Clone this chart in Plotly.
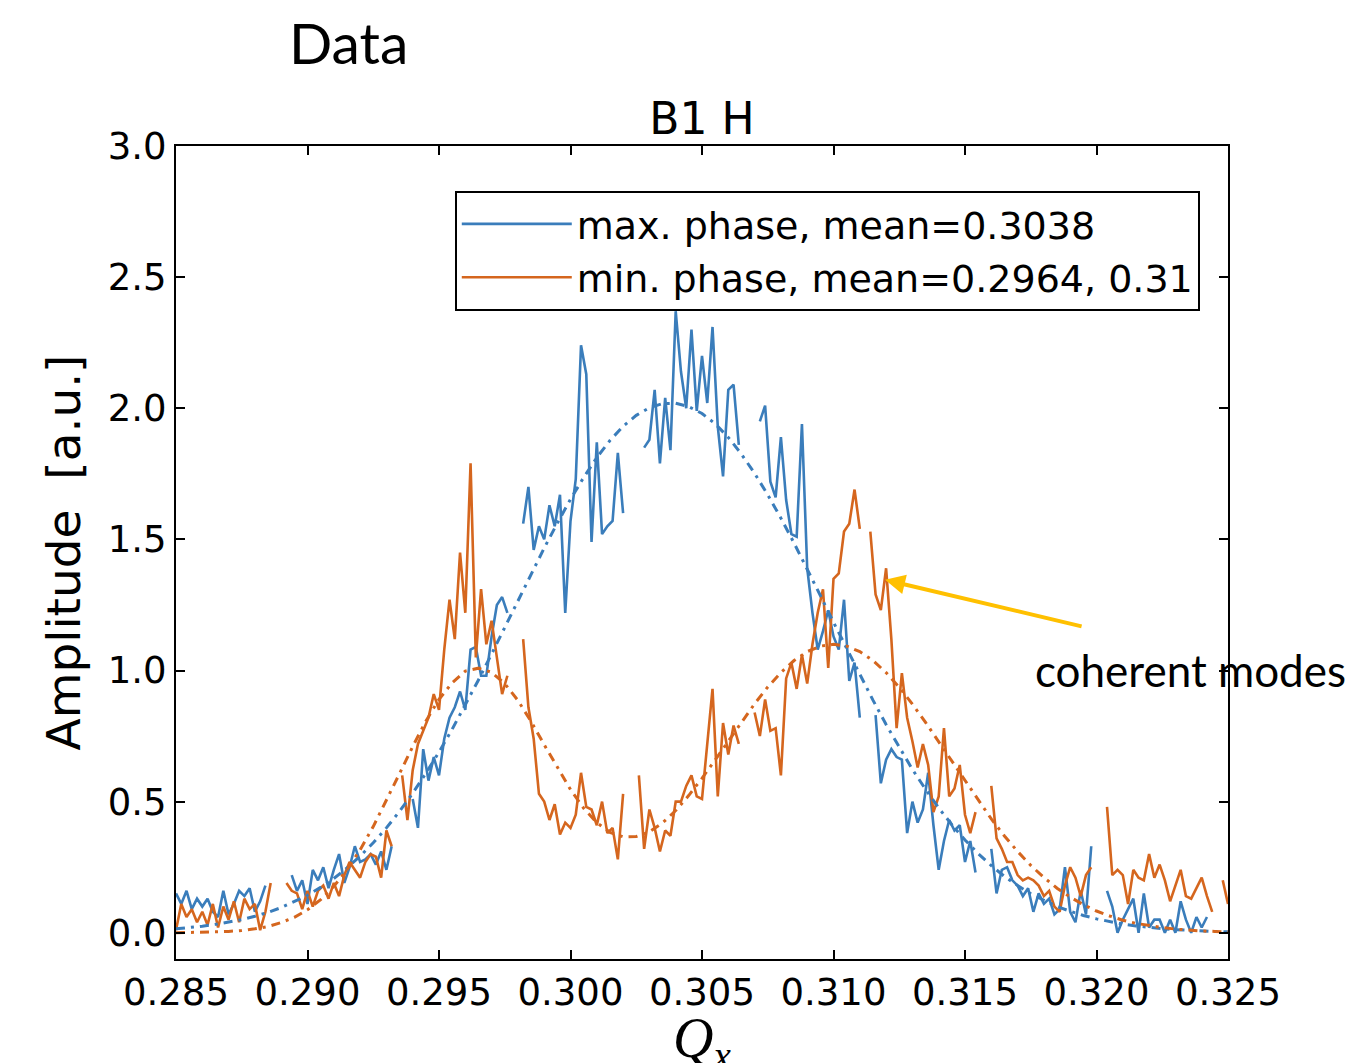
import plotly.graph_objects as go

N = None
# Q grid of the measured spectra (step 0.0002)
q_data = [round(0.285 + 0.0002 * i, 4) for i in range(201)]

blue_amp = (
    [0.15, 0.11, 0.16, 0.09, 0.13, 0.10, 0.13, 0.08, 0.06, 0.16, 0.07, 0.11, 0.16, 0.14, 0.17, 0.08, 0.12, 0.18]
    + [N] * 4
    + [0.22, 0.16, 0.20, 0.11, 0.24, 0.20, 0.25, 0.17, 0.24, 0.30, 0.19, 0.25, 0.33, 0.27, 0.28, 0.30, 0.26, 0.31, 0.24, 0.33]
    + [N] * 3
    + [0.51, 0.40, 0.70, 0.58, 0.67, 0.60, 0.74, 0.82, 0.86, 0.92, 0.85, 1.08, 1.09, 0.98, 0.98, 1.13, 1.25, 1.28, 1.22]
    + [N] * 2
    + [1.56, 1.70, 1.46, 1.55, 1.50, 1.63, 1.55, 1.67, 1.22, 1.57, 1.73, 2.24, 2.13, 1.49, 1.87, 1.52, 1.55, 1.57, 1.83, 1.60]
    + [N] * 3
    + [1.85, 1.88, 2.07, 1.79, 2.04, 1.84, 2.37, 2.14, 2.00, 2.30, 1.99, 2.20, 2.02, 2.31, 1.93, 1.74, 2.07, 2.09, 1.86]
    + [N] * 3
    + [1.95, 2.01, 1.72, 1.66, 1.89, 1.65, 1.52, 1.51, 1.94, 1.39, 1.22, 1.08, 1.15, 1.23, 1.13, 1.08, 1.27, 0.96, 1.03, 0.82]
    + [N] * 2
    + [0.83, 0.57, 0.66, 0.70, 0.67, 0.66, 0.38, 0.50, 0.42, 0.47, 0.61, 0.41, 0.24, 0.35, 0.43, 0.39, 0.41, 0.27, 0.35, 0.23]
    + [N] * 2
    + [0.32, 0.15, 0.24, 0.25, 0.20, 0.18, 0.14, 0.17, 0.08, 0.15, 0.11, 0.13, 0.07, 0.09, 0.25, 0.08, 0.04, 0.16, 0.07, 0.33]
    + [N] * 2
    + [0.16, 0.10, 0.00, 0.05, 0.09, 0.13, 0.00, 0.15, 0.02, 0.05, 0.05, 0.00, 0.05, 0.00, 0.12, 0.05, 0.00, 0.06, 0.02, 0.06]
    + [N] * 4
)

orange_amp = (
    [0.01, 0.11, 0.06, 0.09, 0.04, 0.08, 0.03, 0.11, 0.02, 0.10, 0.05, 0.12, 0.04, 0.13, 0.09, 0.11, 0.01, 0.08, 0.19]
    + [N] * 2
    + [0.19, 0.16, 0.15, 0.09, 0.16, 0.10, 0.16, 0.18, 0.13, 0.19, 0.14, 0.22, 0.27, 0.24, 0.21, 0.27, 0.30, 0.29, 0.21, 0.39, 0.33]
    + [N]
    + [0.60, 0.43, 0.62, 0.72, 0.77, 0.82, 0.91, 0.85, 1.08, 1.27, 1.12, 1.45, 1.22, 1.79, 1.05, 1.31, 1.10, 1.19, 1.05, 0.91, 0.98]
    + [N] * 2
    + [1.12, 0.86, 0.74, 0.53, 0.50, 0.43, 0.49, 0.375, 0.42, 0.40, 0.45, 0.61, 0.48, 0.47, 0.41, 0.50, 0.38, 0.40, 0.28, 0.53]
    + [N] * 2
    + [0.60, 0.32, 0.47, 0.40, 0.31, 0.39, 0.37, 0.50, 0.50, 0.56, 0.60]
    + [0.52, 0.51, 0.72, 0.93, 0.52, 0.80, 0.68, 0.79, 0.72]
    + [N] * 2
    + [0.84, 0.75, 0.89, 0.77, 0.78, 0.60, 0.97, 1.03, 0.93, 1.06, 0.95, 1.10, 1.22, 1.31, 1.01, 1.35, 1.37, 1.53, 1.56, 1.69, 1.54]
    + [N]
    + [1.53, 1.29, 1.23, 1.39, 1.12, 0.78, 0.99, 0.82, 0.73, 0.63, 0.72, 0.64, 0.46, 0.52, 0.78, 0.52, 0.55, 0.64, 0.45, 0.38, 0.46]
    + [N] * 2
    + [0.56, 0.36, 0.32, 0.27, 0.27, 0.22, 0.20, 0.21, 0.20, 0.18, 0.14, 0.16, 0.10, 0.08, 0.18, 0.25, 0.21, 0.14, 0.22, 0.25]
    + [N] * 2
    + [0.48, 0.22, 0.24, 0.22, 0.11, 0.24, 0.21, 0.20, 0.30, 0.21, 0.26, 0.20, 0.12, 0.18, 0.24, 0.14, 0.13, 0.17, 0.21, 0.14, 0.08]
    + [N]
    + [0.20, 0.11]
)

# Q grid of the fitted curves (step 0.0005)
q_fit = [round(0.285 + 0.0005 * k, 4) for k in range(81)]

blue_fit = [0.015, 0.019, 0.025, 0.032, 0.040, 0.050, 0.063, 0.078, 0.096, 0.118,
            0.143, 0.173, 0.207, 0.247, 0.292, 0.343, 0.400, 0.463, 0.532, 0.608,
            0.689, 0.776, 0.868, 0.964, 1.063, 1.164, 1.266, 1.368, 1.467, 1.562,
            1.653, 1.736, 1.812, 1.877, 1.931, 1.973, 2.002, 2.018, 2.019, 2.006,
            1.980, 1.941, 1.889, 1.825, 1.752, 1.670, 1.581, 1.486, 1.388, 1.286,
            1.184, 1.083, 0.983, 0.887, 0.794, 0.706, 0.623, 0.547, 0.476, 0.412,
            0.354, 0.302, 0.256, 0.215, 0.180, 0.149, 0.123, 0.100, 0.082, 0.066,
            0.053, 0.042, 0.033, 0.026, 0.020, 0.016, 0.012, 0.009, 0.007, 0.005, 0.004]

orange_fit = [0.000, 0.001, 0.002, 0.003, 0.005, 0.009, 0.015, 0.024, 0.039, 0.059,
              0.088, 0.126, 0.177, 0.240, 0.316, 0.405, 0.503, 0.607, 0.710, 0.807,
              0.890, 0.953, 0.998, 1.009, 0.993, 0.950, 0.886, 0.806, 0.717, 0.629,
              0.546, 0.475, 0.420, 0.383, 0.366, 0.367, 0.385, 0.419, 0.466, 0.524,
              0.589, 0.659, 0.732, 0.804, 0.873, 0.937, 0.992, 1.038, 1.072, 1.093,
              1.100, 1.093, 1.072, 1.038, 0.992, 0.936, 0.872, 0.802, 0.728, 0.652,
              0.577, 0.504, 0.434, 0.369, 0.310, 0.257, 0.211, 0.170, 0.136, 0.107,
              0.083, 0.064, 0.048, 0.036, 0.027, 0.020, 0.014, 0.010, 0.007, 0.005, 0.003]

labels = ["max. phase, mean=0.3038", "min. phase, mean=0.2964, 0.31"]
x_ticks = [0.285, 0.290, 0.295, 0.300, 0.305, 0.310, 0.315, 0.320, 0.325]
y_ticks = [0.0, 0.5, 1.0, 1.5, 2.0, 2.5, 3.0]

BLUE = "#3a7dbb"
ORANGE = "#d5661e"
FONT = "DejaVu Sans"

fig = go.Figure()
fig.add_trace(go.Scatter(x=q_data, y=blue_amp, mode="lines", name=labels[0],
                         legendgroup="a", line=dict(color=BLUE, width=2.6)))
fig.add_trace(go.Scatter(x=q_data, y=orange_amp, mode="lines", name=labels[1],
                         legendgroup="b", line=dict(color=ORANGE, width=2.6)))
fig.add_trace(go.Scatter(x=q_fit, y=blue_fit, mode="lines", showlegend=False,
                         line=dict(color=BLUE, width=3, dash="9px,6px,3px,6px")))
fig.add_trace(go.Scatter(x=q_fit, y=orange_fit, mode="lines", showlegend=False,
                         line=dict(color=ORANGE, width=3, dash="9px,6px,3px,6px")))

axis_common = dict(showline=True, linecolor="black", linewidth=2, mirror="ticks",
                   ticks="inside", ticklen=9, tickwidth=1.5, tickcolor="black",
                   showgrid=False, zeroline=False, automargin=False,
                   tickfont=dict(family=FONT, size=37, color="black"))

fig.update_xaxes(range=[0.285, 0.325], tickvals=x_ticks, tickformat=".3f",
                 **axis_common)
fig.update_yaxes(range=[-0.1, 3.0], tickvals=y_ticks, tickformat=".1f",
                 title=dict(text="Amplitude\u00a0 [a.u.]",
                            font=dict(family=FONT, size=47, color="black"),
                            standoff=12),
                 **axis_common)

# page body has an 8 px margin: figure is sized/margined so the plot frame lands
# at x 176-1228, y 146-959 of the window
fig.update_layout(
    width=1356, height=1055,
    margin=dict(l=168, r=136, t=138, b=104),
    paper_bgcolor="white", plot_bgcolor="white",
    font=dict(family=FONT, color="black"),
    title=dict(text="B1 H", x=0.5, xanchor="center", xref="paper",
               y=1.0, yref="paper", yanchor="bottom", pad=dict(b=12),
               font=dict(family=FONT, size=44, color="black")),
    legend=dict(x=0.265, y=0.945, xanchor="left", yanchor="top",
                bgcolor="white", bordercolor="black", borderwidth=2,
                font=dict(family=FONT, size=38, color="black"),
                itemwidth=110, traceorder="grouped", tracegroupgap=1),
    showlegend=True,
)

# x-axis label (placed as annotation so it sits low, partly below the page edge like the original)
fig.add_annotation(text="<i>Q</i><sub><i>x</i></sub>", xref="paper", yref="paper",
                   x=0.5, y=-0.056, xanchor="center", yanchor="top", showarrow=False,
                   font=dict(family="Liberation Serif", size=56, color="black"))
fig.add_annotation(text="Data", xref="paper", yref="paper", x=0.1635, y=1.128,
                   xanchor="center", yanchor="middle", showarrow=False,
                   font=dict(family="Lato", size=57, color="black"))
fig.add_annotation(text="coherent modes", xref="paper", yref="paper", x=0.8146, y=0.3555,
                   xanchor="left", yanchor="middle", showarrow=False,
                   font=dict(family="Lato", size=44, color="black"))
fig.add_annotation(text="", x=0.31196, y=1.346, xref="x", yref="y",
                   ax=0.31949, ay=1.167, axref="x", ayref="y",
                   showarrow=True, arrowhead=2, arrowsize=1, arrowwidth=4,
                   arrowcolor="#FFC000")

fig.write_html("out.html", config={"displayModeBar": False})
